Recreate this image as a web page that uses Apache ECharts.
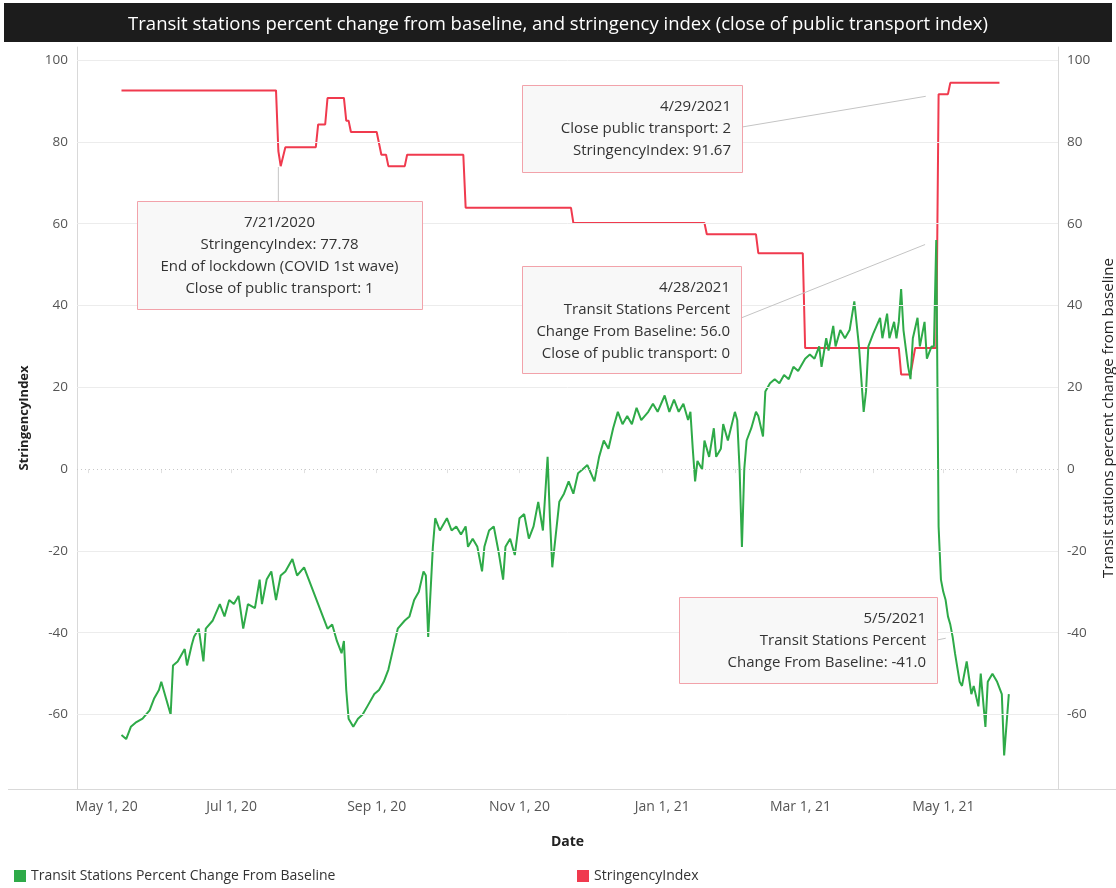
<!doctype html>
<meta charset="utf-8">
<title>Transit stations and stringency index</title>
<style>
	html, body { margin: 0; background: #fff; }
	#main { width: 1116px; height: 888px; }
</style>
<div id="main"></div>
<script src="https://cdn.jsdelivr.net/npm/echarts@6/dist/echarts.min.js"></script>
<script>
	// transit stations percent change from baseline
	const greenDates = [
		'2020-05-15','2020-05-17','2020-05-19','2020-05-21','2020-05-24','2020-05-27','2020-05-29','2020-05-31',
		'2020-06-01','2020-06-03','2020-06-05','2020-06-06','2020-06-08','2020-06-11','2020-06-12','2020-06-14',
		'2020-06-15','2020-06-17','2020-06-19','2020-06-20','2020-06-23','2020-06-26','2020-06-28','2020-06-30',
		'2020-07-02','2020-07-04','2020-07-06','2020-07-08','2020-07-11','2020-07-13','2020-07-14','2020-07-16',
		'2020-07-18','2020-07-20','2020-07-22','2020-07-24','2020-07-27','2020-07-29','2020-08-01','2020-08-03',
		'2020-08-05','2020-08-07','2020-08-09','2020-08-11','2020-08-13','2020-08-15','2020-08-17','2020-08-18',
		'2020-08-19','2020-08-20','2020-08-22','2020-08-24','2020-08-26','2020-08-28','2020-08-31','2020-09-02',
		'2020-09-04','2020-09-06','2020-09-08','2020-09-10','2020-09-13','2020-09-15','2020-09-17','2020-09-19',
		'2020-09-21','2020-09-22','2020-09-23','2020-09-25','2020-09-26','2020-09-28','2020-10-01','2020-10-03',
		'2020-10-05','2020-10-07','2020-10-09','2020-10-10','2020-10-12','2020-10-14','2020-10-16','2020-10-17',
		'2020-10-19','2020-10-21','2020-10-23','2020-10-25','2020-10-26','2020-10-28','2020-10-30','2020-11-01',
		'2020-11-03','2020-11-05','2020-11-07','2020-11-09','2020-11-11','2020-11-13','2020-11-14','2020-11-15',
		'2020-11-18','2020-11-20','2020-11-22','2020-11-24','2020-11-26','2020-11-28','2020-11-30','2020-12-03',
		'2020-12-05','2020-12-07','2020-12-09','2020-12-11','2020-12-13','2020-12-15','2020-12-17','2020-12-19',
		'2020-12-21','2020-12-23','2020-12-26','2020-12-28','2020-12-30','2021-01-02','2021-01-04','2021-01-06',
		'2021-01-08','2021-01-10','2021-01-12','2021-01-13','2021-01-14','2021-01-15','2021-01-16','2021-01-18',
		'2021-01-19','2021-01-21','2021-01-23','2021-01-24','2021-01-26','2021-01-27','2021-01-29','2021-02-01',
		'2021-02-02','2021-02-03','2021-02-04','2021-02-05','2021-02-06','2021-02-08','2021-02-10','2021-02-11',
		'2021-02-13','2021-02-14','2021-02-16','2021-02-18','2021-02-20','2021-02-22','2021-02-24','2021-02-26',
		'2021-02-28','2021-03-03','2021-03-05','2021-03-07','2021-03-09','2021-03-10','2021-03-12','2021-03-13',
		'2021-03-15','2021-03-16','2021-03-18','2021-03-20','2021-03-22','2021-03-24','2021-03-26','2021-03-28',
		'2021-03-29','2021-03-30','2021-04-01','2021-04-04','2021-04-05','2021-04-07','2021-04-08','2021-04-10',
		'2021-04-11','2021-04-12','2021-04-13','2021-04-14','2021-04-16','2021-04-17','2021-04-18','2021-04-20',
		'2021-04-21','2021-04-23','2021-04-24','2021-04-26','2021-04-27','2021-04-28','2021-04-29','2021-04-30',
		'2021-05-01','2021-05-02','2021-05-03','2021-05-04','2021-05-05','2021-05-06','2021-05-08','2021-05-09',
		'2021-05-11','2021-05-12','2021-05-13','2021-05-14','2021-05-16','2021-05-17','2021-05-19','2021-05-20',
		'2021-05-22','2021-05-24','2021-05-26','2021-05-27','2021-05-29'
	];
	const greenValues = [
		-65,-66,-63,-62,-61,-59,-56,-54,
		-52,-56,-60,-48,-47,-44,-48,-43,
		-41,-39,-47,-39,-37,-33,-36,-32,
		-33,-31,-39,-33,-34,-27,-33,-27,
		-25,-32,-26,-25,-22,-26,-24,-27,
		-30,-33,-36,-39,-38,-42,-45,-42,
		-54,-61,-63,-61,-60,-58,-55,-54,
		-52,-49,-44,-39,-37,-36,-32,-30,
		-25,-26,-41,-19,-12,-15,-12,-15,
		-14,-16,-14,-19,-17,-19,-25,-19,
		-15,-14,-20,-27,-19,-17,-21,-12,
		-11,-17,-14,-8,-15,3,-12,-24,
		-8,-6,-3,-6,-1,0,1,-3,
		3,7,5,10,14,11,13,11,
		15,12,14,16,14,18,14,17,
		14,16,12,14,5,-3,2,0,
		7,3,10,3,5,11,7,14,
		12,0,-19,0,7,10,14,13,
		8,19,21,22,21,23,22,25,
		24,27,28,27,30,25,32,29,
		35,30,34,32,34,41,30,14,
		19,30,33,37,32,38,32,36,
		32,36,44,34,25,22,32,37,
		30,36,27,30,30,56,-14,-27,
		-30,-32,-36,-38,-41,-45,-52,-53,
		-47,-51,-55,-53,-58,-50,-63,-52,
		-50,-52,-55,-70,-55
	];
	// stringency index, one entry per level change
	const redDates = [
		'2020-05-15','2020-07-20','2020-07-21','2020-07-22','2020-07-24','2020-08-06','2020-08-07','2020-08-10',
		'2020-08-11','2020-08-18','2020-08-19','2020-08-20','2020-08-21','2020-09-01','2020-09-03','2020-09-05',
		'2020-09-06','2020-09-13','2020-09-14','2020-10-08','2020-10-09','2020-11-23','2020-11-24','2021-01-19',
		'2021-01-20','2021-02-10','2021-02-11','2021-03-02','2021-03-03','2021-04-12','2021-04-13','2021-04-17',
		'2021-04-19','2021-04-28','2021-04-29','2021-05-03','2021-05-04','2021-05-25'
	];
	const redValues = [
		92.59,92.59,77.78,74.07,78.7,78.7,84.26,84.26,
		90.74,90.74,85.19,85.19,82.41,82.41,76.85,76.85,
		74.07,74.07,76.85,76.85,63.89,63.89,60.19,60.19,
		57.41,57.41,52.78,52.78,29.63,29.63,23.15,23.15,
		29.63,29.63,91.67,91.67,94.44,94.44
	];
	const gridTicks = [-60, -40, -20, 20, 40, 60, 80, 100];
	const greenName = 'Transit Stations Percent Change From Baseline';
	const redName = 'StringencyIndex';
	const GREEN = '#2eaa48', RED = '#f03a4e';
	const FONT = "'Open Sans', sans-serif";
	const MONTHS = ['Jan','Feb','Mar','Apr','May','Jun','Jul','Aug','Sep','Oct','Nov','Dec'];

	function toTime(s) {
		const p = s.split('-').map(Number);
		return new Date(p[0], p[1] - 1, p[2]).getTime();
	}
	const greenData = greenDates.map((d, i) => [toTime(d), greenValues[i]]);
	const redData = redDates.map((d, i) => [toTime(d), redValues[i]]);
	const xMin = toTime('2020-04-26');

	const yAxisBase = {
		type: 'value',
		min: -78.2,
		max: 103.2,
		splitNumber: 9,
		splitLine: { show: false },
		axisTick: { show: false },
		axisLine: { show: true, lineStyle: { color: '#d9d9d9' } },
		axisLabel: {
			color: '#555', fontFamily: FONT, fontSize: 13.5, margin: 9,
			formatter: v => (v % 20 === 0 ? String(v) : '')
		},
		nameLocation: 'middle'
	};

	const option = {
		animation: false,
		grid: { left: 77, right: 58, top: 47, bottom: 99, containLabel: false, outerBoundsMode: 'none' },
		title: {
			text: 'Transit stations percent change from baseline, and stringency index (close of public transport index)',
			left: 'center', top: 10,
			textStyle: { color: '#fff', fontFamily: FONT, fontSize: 18.5, fontWeight: 'normal' }
		},
		legend: [
			{ data: [greenName], left: 9, top: 864, icon: 'rect', itemWidth: 12, itemHeight: 12, itemGap: 8, selectedMode: false,
				textStyle: { color: '#333', fontFamily: FONT, fontSize: 14 } },
			{ data: [redName], left: 572, top: 864, icon: 'rect', itemWidth: 12, itemHeight: 12, selectedMode: false,
				textStyle: { color: '#333', fontFamily: FONT, fontSize: 14 } }
		],
		xAxis: {
			type: 'time',
			min: xMin,
			max: toTime('2021-06-19'),
			minInterval: 28 * 864e5,
			maxInterval: 31 * 864e5,
			name: 'Date',
			nameLocation: 'middle',
			nameGap: 46,
			nameTextStyle: { color: '#222', fontFamily: FONT, fontSize: 14, fontWeight: 'bold' },
			axisLine: { show: false },
			axisTick: { show: true, length: 4, lineStyle: { color: '#e0e0e0' } },
			splitLine: { show: false },
			axisLabel: {
				color: '#555', fontFamily: FONT, fontSize: 14, margin: 11,
				showMinLabel: false, showMaxLabel: false,
				formatter: function (val) {
					const d = new Date(val);
					if (d.getDate() !== 1 || d.getMonth() % 2 !== 0) return '';
					const txt = MONTHS[d.getMonth()] + ' 1, ' + String(d.getFullYear()).slice(2);
					// first label is pushed right so it clears the left axis, as in the source
					return val - xMin < 10 * 864e5 ? '{first|' + txt + '}' : txt;
				},
				rich: { first: { color: '#555', fontFamily: FONT, fontSize: 14, padding: [0, 0, 0, 36] } }
			}
		},
		yAxis: [
			Object.assign({}, yAxisBase, { name: 'StringencyIndex', nameGap: 46, position: 'left',
				nameTextStyle: { color: '#222', fontFamily: FONT, fontSize: 13, fontWeight: 'bold' } }),
			Object.assign({}, yAxisBase, { name: 'Transit stations percent change from baseline', nameGap: 40, position: 'right',
				nameTextStyle: { color: '#222', fontFamily: FONT, fontSize: 15 } })
		],
		series: [
			{
				name: redName, type: 'line', yAxisIndex: 0, data: redData,
				showSymbol: false, color: RED, lineStyle: { width: 2, color: RED },
				markLine: {
					silent: true, symbol: 'none', label: { show: false },
					lineStyle: { color: '#ececec', width: 1, type: 'solid' },
					data: gridTicks.map(v => ({ yAxis: v })).concat([{ yAxis: 0, lineStyle: { color: '#c8c8c8', type: [1, 3] } }])
				},
				z: 2
			},
			{
				name: greenName, type: 'line', yAxisIndex: 1, data: greenData,
				showSymbol: false, color: GREEN, lineStyle: { width: 2, color: GREEN },
				z: 3
			}
		]
	};

	const chart = echarts.init(document.getElementById('main'));
	chart.setOption(option);

	function px(d, v, axis) {
		return chart.convertToPixel({ xAxisIndex: 0, yAxisIndex: axis }, [toTime(d), v]);
	}
	function connector(x1, y1, p, gap) {
		const dx = x1 - p[0], dy = y1 - p[1];
		const len = Math.hypot(dx, dy);
		return {
			type: 'line', z: 20, silent: true,
			shape: { x1: x1, y1: y1, x2: p[0] + dx / len * gap, y2: p[1] + dy / len * gap },
			style: { stroke: '#c4c4c4', lineWidth: 1 }
		};
	}
	function box(x, y, w, h, lines, align) {
		const tx = align === 'center' ? x + w / 2 : x + w - 11;
		return [
			{ type: 'rect', z: 21, silent: true, shape: { x: x + 0.5, y: y + 0.5, width: w, height: h },
				style: { fill: '#f8f8f8', stroke: '#f2a2aa', lineWidth: 1 } },
			{ type: 'text', z: 22, silent: true, x: tx, y: y + 11,
				style: { text: lines.join('\n'), align: align, verticalAlign: 'top', lineHeight: 22,
					fontFamily: FONT, fontSize: 15, fill: '#333' } }
		];
	}

	const a1 = px('2020-07-21', 77.78, 0);
	const a2 = px('2021-04-29', 91.67, 0);
	const a3 = px('2021-04-28', 56.0, 1);
	const a4 = px('2021-05-05', -41.0, 1);

	const graphics = [
		{ type: 'rect', z: -1, silent: true, shape: { x: 4, y: 3, width: 1108, height: 39 }, style: { fill: '#1c1c1c' } },
		{ type: 'line', silent: true, shape: { x1: 8, y1: 789.5, x2: 1116, y2: 789.5 }, style: { stroke: '#d9d9d9', lineWidth: 1 } },
		connector(a1[0], 201, a1, 16),
		connector(742, 127, a2, 13),
		connector(741, 318, a3, 12),
		connector(937, 640, a4, 7)
	].concat(
		box(137, 201, 285, 108, ['7/21/2020', 'StringencyIndex: 77.78', 'End of lockdown (COVID 1st wave)', 'Close of public transport: 1'], 'center'),
		box(522, 85, 220, 87, ['4/29/2021', 'Close public transport: 2', 'StringencyIndex: 91.67'], 'right'),
		box(522, 266, 219, 107, ['4/28/2021', 'Transit Stations Percent', 'Change From Baseline: 56.0', 'Close of public transport: 0'], 'right'),
		box(679, 597, 258, 86, ['5/5/2021', 'Transit Stations Percent', 'Change From Baseline: -41.0'], 'right')
	);
	chart.setOption({ graphic: graphics });
</script>
